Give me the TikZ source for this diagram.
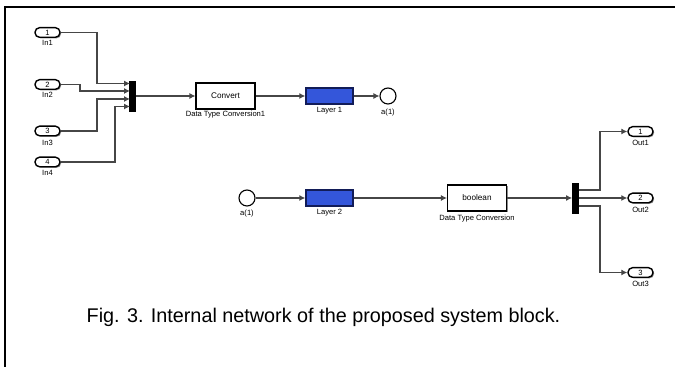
\documentclass[tikz,border=0pt]{standalone}
\usepackage{fontspec}
\setmainfont{Liberation Sans}
\usetikzlibrary{arrows.meta,shadows}
\definecolor{layerblue}{RGB}{52,86,218}
\definecolor{layeredge}{RGB}{18,28,88}
\definecolor{wirecol}{RGB}{70,70,70}
\begin{document}
\begin{tikzpicture}[x=0.5pt,y=-0.5pt,
  wire/.style={draw=wirecol,line width=0.55pt},
  arr/.style={wire,-{Latex[length=3pt,width=3pt]}},
  shad/.style={drop shadow={shadow xshift=0.55pt,shadow yshift=-0.55pt,fill=black!45,opacity=1}},
  port/.style={draw=black,line width=0.7pt,fill=white,shad,rounded corners=2.3pt,minimum width=12.5pt,minimum height=4.8pt,inner sep=0pt,font=\fontsize{3.8}{4}\selectfont},
  lbl/.style={inner sep=0pt,font=\fontsize{3.8}{4}\selectfont},
  conv/.style={draw=black,line width=0.55pt,fill=white,shad,minimum width=29.5pt,minimum height=13pt,inner sep=0pt,font=\fontsize{4.1}{5}\selectfont},
  layer/.style={draw=layeredge,line width=0.7pt,fill=layerblue,minimum width=23.5pt,minimum height=8pt,inner sep=0pt},
  term/.style={circle,draw=black,line width=0.55pt,fill=white,minimum size=8pt,inner sep=0pt},
  bar/.style={fill=black,draw=black,minimum width=3pt,minimum height=15pt,inner sep=0pt},
  caption/.style={inner sep=0pt,font=\fontsize{9.9}{11}\selectfont}]
\useasboundingbox (0,0) rectangle (675,367);
\fill[white] (0,0) rectangle (675,367);
% frame
\draw[line width=1.1pt] (5,367) -- (5,7) -- (675,7);

% input ports
\node[port] (in1) at (47.5,32.5) {1};
\node[lbl] (in1l) at (47.5,43) {In1};
\node[port] (in2) at (47.5,84.5) {2};
\node[lbl] (in2l) at (47.5,95) {In2};
\node[port] (in3) at (47.5,131) {3};
\node[lbl] (in3l) at (47.5,142.5) {In3};
\node[port] (in4) at (47.5,162) {4};
\node[lbl] (in4l) at (47.5,172.5) {In4};

% mux
\node[bar] (mux) at (132.5,96.5) {};
\coordinate (m1) at (130,83.5);
\coordinate (m2) at (130,91);
\coordinate (m3) at (130,99);
\coordinate (m4) at (130,106.5);
\draw[arr] (in1.east) -| (97,83.5) -- (m1);
\draw[arr] (in2.east) -- (80,84.5) -- (80,91) -- (m2);
\draw[arr] (in3.east) -| (97,99) -- (m3);
\draw[arr] (in4.east) -| (115,106.5) -- (m4);

% row 1
\node[conv] (cv1) at (225.5,96) {Convert};
\node[lbl] (cv1l) at (225.5,115) {Data Type Conversion1};
\node[layer] (l1) at (329.5,96) {};
\node[lbl] (l1l) at (329.5,111) {Layer 1};
\node[term] (a1) at (388,96) {};
\node[lbl] (a1l) at (388,112.5) {a(1)};
\draw[arr] (mux.east |- cv1.west) -- (cv1.west);
\draw[arr] (cv1.east) -- (l1.west);
\draw[arr] (l1.east) -- (a1.west);

% row 2
\node[term] (a2) at (247,198) {};
\node[lbl] (a2l) at (247,214) {a(1)};
\node[layer] (l2) at (329.5,198) {};
\node[lbl] (l2l) at (329.5,212.5) {Layer 2};
\node[conv] (cv2) at (477,198) {boolean};
\node[lbl] (cv2l) at (477,219) {Data Type Conversion};
\node[bar] (dmx) at (575.5,198) {};
\draw[arr] (a2.east) -- (l2.west);
\draw[arr] (l2.east) -- (cv2.west);
\draw[arr] (cv2.east) -- (dmx.west);

% outputs
\node[port] (o1) at (640.5,131.5) {1};
\node[lbl] (o1l) at (640.5,143) {Out1};
\node[port] (o2) at (640.5,198) {2};
\node[lbl] (o2l) at (640.5,209.5) {Out2};
\node[port] (o3) at (640.5,272.5) {3};
\node[lbl] (o3l) at (640.5,284) {Out3};
\coordinate (d1) at (578.5,190);
\coordinate (d3) at (578.5,206);
\draw[arr] (d1) -- (600,190) |- (o1.west);
\draw[arr] (dmx.east) -- (o2.west);
\draw[arr] (d3) -- (600,206) |- (o3.west);

% caption
\node[caption] (cap) at (323.5,317.5) {Fig. 3. Internal network of the proposed system block.};
\end{tikzpicture}
\end{document}
